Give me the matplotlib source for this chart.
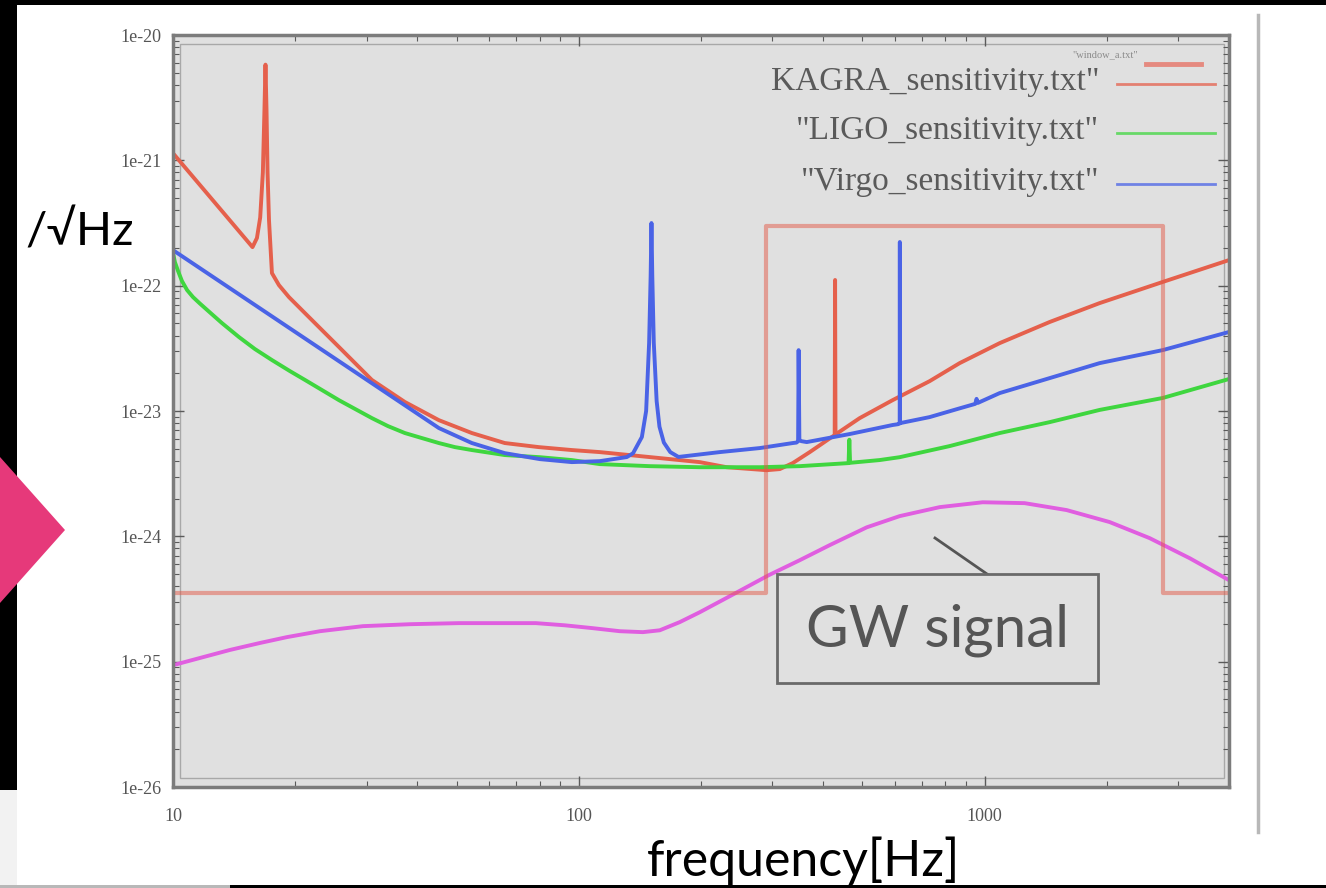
import matplotlib
matplotlib.use('Agg')
import matplotlib.pyplot as plt
from matplotlib import ticker
from matplotlib.lines import Line2D
from matplotlib.patches import Rectangle, Polygon

W, H = 1326, 888

# values: frequency [Hz] and strain [1/sqrt(Hz)]
kagra_f = [10, 15.7, 16.1, 16.4, 16.65, 16.8, 16.9, 17.0, 17.1, 17.24, 17.53, 18.24, 19.31, 21.14,
           25.64, 30.9, 37.27, 45.2, 54.5, 65.7, 79.7, 96.1, 112.6, 158.3, 198.6, 231.4, 290.4,
           312.7, 336.6, 370.7, 427, 428, 429, 492, 593, 731.7, 867.7, 1089, 1446, 1920, 2745, 4000]
kagra_h = [1.14e-21, 2.03e-22, 2.4e-22, 3.5e-22, 8e-22, 2.5e-21, 5.8e-21, 2.5e-21, 8e-22, 3.34e-22,
           1.26e-22, 1.01e-22, 8.1e-23, 6.04e-23, 3.24e-23, 1.77e-23, 1.18e-23, 8.45e-24, 6.67e-24,
           5.55e-24, 5.15e-24, 4.88e-24, 4.7e-24, 4.21e-24, 3.91e-24, 3.56e-24, 3.37e-24, 3.44e-24,
           3.84e-24, 4.7e-24, 6.43e-24, 1.11e-22, 6.5e-24, 8.77e-24, 1.22e-23, 1.73e-23, 2.41e-23,
           3.48e-23, 5.13e-23, 7.26e-23, 1.07e-22, 1.6e-22]

ligo_f = [10, 10.11, 10.29, 10.52, 10.83, 11.2, 11.65, 12.34, 13.2, 14.54, 15.92, 17.53, 19.42,
          21.14, 23.28, 25.64, 28.07, 30.92, 33.85, 37.27, 41.06, 45.2, 49.51, 54.51, 65.73, 80.15,
          96.1, 112.6, 149.6, 198.6, 279, 350, 462, 464, 466, 551, 617.5, 820, 1089, 1446, 1920,
          2745, 4000]
ligo_h = [1.82e-22, 1.54e-22, 1.31e-22, 1.09e-22, 9.23e-23, 8.11e-23, 7.2e-23, 6.1e-23, 5.03e-23,
          3.89e-23, 3.12e-23, 2.55e-23, 2.08e-23, 1.77e-23, 1.47e-23, 1.22e-23, 1.04e-23, 8.77e-24,
          7.58e-24, 6.67e-24, 6.08e-24, 5.55e-24, 5.15e-24, 4.88e-24, 4.45e-24, 4.28e-24, 4.06e-24,
          3.77e-24, 3.63e-24, 3.56e-24, 3.56e-24, 3.63e-24, 3.84e-24, 5.9e-24, 3.86e-24, 4.06e-24,
          4.28e-24, 5.25e-24, 6.67e-24, 8.15e-24, 1.02e-23, 1.27e-23, 1.8e-23]

virgo_f = [10, 45.2, 54.5, 65.7, 80.2, 96.1, 112.6, 131.3, 136, 143, 146.5, 149, 150.3, 151, 151.7,
           153, 155.5, 158, 162, 168, 176, 222.5, 279, 336.6, 344, 347, 348, 349.5, 353, 364.4, 465,
           593, 612, 617.5, 618, 618.5, 731.7, 867.7, 948, 955, 962, 1089, 1446, 1920, 2745, 4000]
virgo_h = [1.92e-22, 7.31e-24, 5.55e-24, 4.61e-24, 4.13e-24, 3.91e-24, 3.98e-24, 4.29e-24, 4.6e-24,
           6.2e-24, 1.0e-23, 3.5e-23, 1.2e-22, 3.16e-22, 1.2e-22, 3.5e-23, 1.2e-23, 7.5e-24, 5.6e-24,
           4.7e-24, 4.3e-24, 4.7e-24, 5.06e-24, 5.55e-24, 5.6e-24, 5.75e-24, 3.06e-23, 5.9e-24,
           5.75e-24, 5.65e-24, 6.55e-24, 7.73e-24, 7.85e-24, 7.95e-24, 2.23e-22, 8.0e-24, 8.94e-24,
           1.05e-23, 1.14e-23, 1.25e-23, 1.16e-23, 1.39e-23, 1.83e-23, 2.41e-23, 3.06e-23, 4.27e-23]

window_f = [10, 290, 290, 2750, 2750, 4000]
window_h = [3.5e-25, 3.5e-25, 3e-22, 3e-22, 3.5e-25, 3.5e-25]

gw_f = [10, 11.65, 13.81, 16.38, 19.09, 23.02, 29.38, 38.35, 50.63, 63.88, 78.35, 92.4, 108.3,
        126.2, 143.8, 158.3, 177.4, 198.6, 235.5, 293.8, 350.2, 415.2, 512.2, 617.5, 774.8, 988.8,
        1254, 1592, 2032, 2549, 3198, 4000]
gw_h = [9.37e-26, 1.07e-25, 1.24e-25, 1.41e-25, 1.57e-25, 1.75e-25, 1.92e-25, 1.99e-25, 2.03e-25,
        2.03e-25, 2.03e-25, 1.95e-25, 1.85e-25, 1.75e-25, 1.72e-25, 1.78e-25, 2.07e-25, 2.48e-25,
        3.33e-25, 4.9e-25, 6.45e-25, 8.51e-25, 1.18e-24, 1.45e-24, 1.71e-24, 1.87e-24, 1.84e-24,
        1.62e-24, 1.3e-24, 9.68e-25, 6.7e-25, 4.47e-25]

legend_names = ['KAGRA_sensitivity.txt"', '"LIGO_sensitivity.txt"', '"Virgo_sensitivity.txt"']

c_kagra = '#e5604c'
c_ligo = '#3fd63f'
c_virgo = '#4a63e6'
c_gw = '#e05ee0'


def fx(x):
    return x / W


def fy(y):
    return 1 - y / H


fig = plt.figure(figsize=(W / 100, H / 100), dpi=100, facecolor='black')

# slide background
fig.add_artist(Rectangle((fx(17), fy(885)), fx(W - 17), 880 / H, transform=fig.transFigure,
                         facecolor='white', edgecolor='none', zorder=0))
fig.add_artist(Rectangle((0, fy(885)), fx(17), 95 / H, transform=fig.transFigure,
                         facecolor='#f2f2f2', edgecolor='none', zorder=0))
fig.add_artist(Rectangle((0, 0), fx(230), 3 / H, transform=fig.transFigure,
                         facecolor='#b8b8b8', edgecolor='none', zorder=0))
fig.add_artist(Polygon([(0, fy(457)), (fx(65), fy(530)), (0, fy(603))], closed=True,
                       transform=fig.transFigure, facecolor='#e6397a', edgecolor='none', zorder=1))
fig.add_artist(Line2D([fx(1258), fx(1258)], [fy(15), fy(832)], transform=fig.transFigure,
                      color='#b8b8b8', lw=2.5))

ax = fig.add_axes([fx(173), fy(787), (1229 - 173) / W, (787 - 35) / H])
ax.set_facecolor('#e0e0e0')

ax.plot(kagra_f, kagra_h, color=c_kagra, lw=2.8, solid_joinstyle='round')
ax.plot(ligo_f, ligo_h, color=c_ligo, lw=2.8, solid_joinstyle='round')
ax.plot(virgo_f, virgo_h, color=c_virgo, lw=2.8, solid_joinstyle='round')
ax.plot(gw_f, gw_h, color=c_gw, lw=2.8, solid_joinstyle='round')
ax.plot(window_f, window_h, color='#e25a48', lw=3, alpha=0.5)

ax.set_xscale('log')
ax.set_yscale('log')
ax.set_xlim(10, 4000)
ax.set_ylim(1e-26, 1e-20)

ax.xaxis.set_major_locator(ticker.FixedLocator([10, 100, 1000]))
ax.xaxis.set_major_formatter(ticker.FixedFormatter(['10', '100', '1000']))
ax.xaxis.set_minor_locator(ticker.LogLocator(base=10, subs=range(2, 10), numticks=20))
ax.xaxis.set_minor_formatter(ticker.NullFormatter())
yt = [1e-26, 1e-25, 1e-24, 1e-23, 1e-22, 1e-21, 1e-20]
ax.yaxis.set_major_locator(ticker.FixedLocator(yt))
ax.yaxis.set_major_formatter(ticker.FixedFormatter(['1e-26', '1e-25', '1e-24', '1e-23',
                                                    '1e-22', '1e-21', '1e-20']))
ax.yaxis.set_minor_locator(ticker.LogLocator(base=10, subs=range(2, 10), numticks=20))
ax.yaxis.set_minor_formatter(ticker.NullFormatter())

ax.tick_params(which='both', direction='in', top=True, right=True, color='#5a5a5a')
ax.tick_params(which='major', length=8, width=1)
ax.tick_params(which='minor', length=4, width=0.8)
ax.tick_params(axis='x', pad=15)
ax.tick_params(axis='y', pad=8)
for lab in ax.get_xticklabels() + ax.get_yticklabels():
    lab.set_family('Liberation Serif')
    lab.set_fontsize(13)
    lab.set_color('#555555')
for sp in ax.spines.values():
    sp.set_color('#7c7c7c')
    sp.set_linewidth(2.5)
ax.add_patch(Rectangle((0.007, 0.012), 0.988, 0.976, transform=ax.transAxes, fill=False,
                       edgecolor='#a8a8a8', lw=1, zorder=0.5))

# gnuplot style key (text first, sample line to the right)
fig.text(fx(1138), fy(55), '"window_a.txt"', ha='right', va='center', fontsize=7.5,
         family='Liberation Serif', color='#8a8a8a')
fig.add_artist(Line2D([fx(1146), fx(1201)], [fy(64), fy(64)], transform=fig.transFigure,
                      color='#e58a80', lw=3.5))
key_y = [82, 131, 182]
key_c = [c_kagra, c_ligo, c_virgo]
for name, yy, cc in zip(legend_names, key_y, key_c):
    fig.text(fx(1099), fy(yy), name, ha='right', va='center', fontsize=24,
             family='Liberation Serif', color='#5a5a5a')
    fig.add_artist(Line2D([fx(1117), fx(1215)], [fy(yy + 2), fy(yy + 2)],
                          transform=fig.transFigure, color=cc, lw=2, alpha=0.75))

# axis captions on the slide
fig.text(fx(25), fy(232), '/√Hz', ha='left', va='center', fontsize=34,
         family=['Lato', 'DejaVu Sans'], color='black')
fig.text(fx(804), fy(861), 'frequency[Hz]', ha='center', va='center', fontsize=36,
         family=['Lato', 'DejaVu Sans'], color='black')

# GW signal callout
fig.add_artist(Rectangle((fx(777), fy(683)), (1098 - 777) / W, (683 - 574) / H,
                         transform=fig.transFigure, facecolor='#e0e0e0', edgecolor='#6a6a6a',
                         lw=2, zorder=3))
fig.text(fx(937), fy(630), 'GW signal', ha='center', va='center', fontsize=42,
         family=['Lato', 'DejaVu Sans'], color='#555555', zorder=4)
fig.add_artist(Line2D([fx(935), fx(987)], [fy(538), fy(574)], transform=fig.transFigure,
                      color='#555555', lw=2))

fig.savefig('out.png', dpi=100, facecolor='black')
